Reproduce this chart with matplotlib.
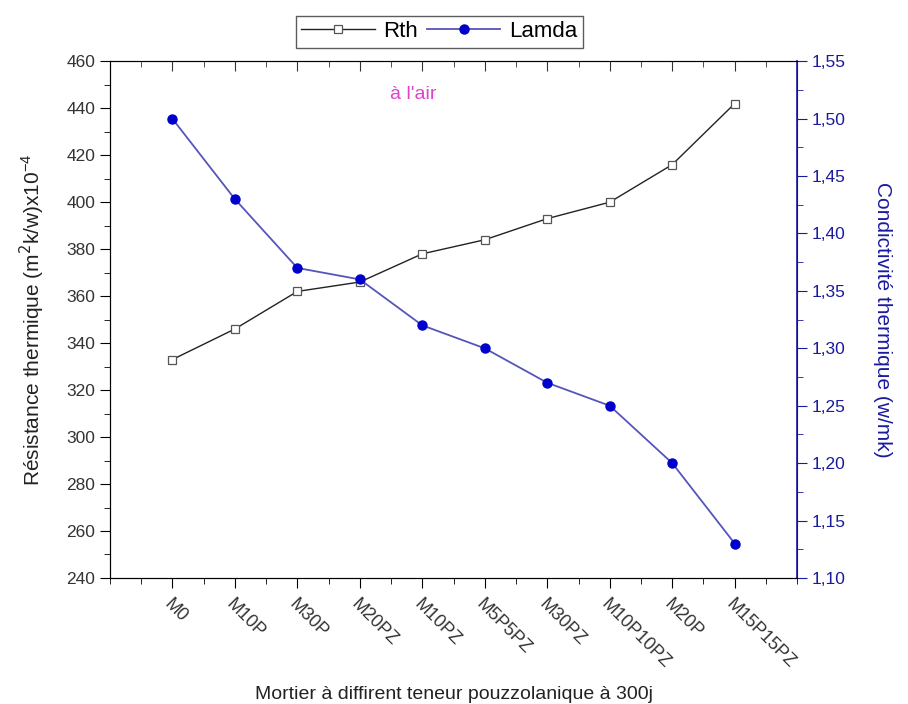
import numpy as np
import matplotlib.pyplot as plt
from matplotlib.ticker import MultipleLocator, FuncFormatter

plt.rcParams['font.family'] = ['Liberation Sans', 'DejaVu Sans']

# donnees
labels = ['M0', 'M10P', 'M30P', 'M20PZ', 'M10PZ', 'M5P5PZ', 'M30PZ', 'M10P10PZ', 'M20P', 'M15P15PZ']
rth = [333, 346, 362, 366, 378, 384, 393, 400, 416, 442]
lamda = [1.50, 1.43, 1.37, 1.36, 1.32, 1.30, 1.27, 1.25, 1.20, 1.13]

x = np.arange(1, len(labels) + 1)
blue = '#1a1aa0'

fig = plt.figure(figsize=(9.08, 7.04), dpi=100)
ax = fig.add_axes([0.121, 0.179, 0.757, 0.734])
ax2 = ax.twinx()

l1, = ax.plot(x, rth, '-', color='#222222', lw=1.0, marker='s', ms=5.5,
              mfc='white', mec='#555555', mew=0.9, label='Rth')
l2, = ax2.plot(x, lamda, '-', color='#5555bb', lw=1.3, marker='o', ms=6.5,
               mfc='#0000cc', mec='#0000cc', label='Lamda')

ax.set_xlim(0, 11)
ax.set_ylim(240, 460)
ax2.set_ylim(1.10, 1.55)

ax.set_xticks(x)
ax.set_xticklabels(labels, rotation=-45, ha='left', va='top', rotation_mode='anchor',
                   fontsize=13, color='#333333')
ax.xaxis.set_minor_locator(MultipleLocator(0.5))
ax.yaxis.set_major_locator(MultipleLocator(20))
ax.yaxis.set_minor_locator(MultipleLocator(10))
ax.tick_params(axis='x', which='both', direction='out')
ax.tick_params(axis='x', which='major', length=7, pad=6)
ax.tick_params(axis='x', which='minor', length=4)
ax.tick_params(axis='y', which='major', length=7, labelsize=12.5, labelcolor='#333333')
ax.tick_params(axis='y', which='minor', length=4)

# ticks du haut vers l'interieur (axe x partage avec ax2)
ax2.xaxis.set_visible(True)
ax2.tick_params(axis='x', which='both', top=True, bottom=False, labeltop=False,
                labelbottom=False, direction='in', color='#333333')
ax2.tick_params(axis='x', which='major', length=7)
ax2.tick_params(axis='x', which='minor', length=4)

ax2.yaxis.set_major_locator(MultipleLocator(0.05))
ax2.yaxis.set_minor_locator(MultipleLocator(0.025))
ax2.yaxis.set_major_formatter(FuncFormatter(lambda v, p: ('%.2f' % v).replace('.', ',')))
ax2.tick_params(axis='y', which='major', length=7, colors=blue, labelsize=12.5)
ax2.tick_params(axis='y', which='minor', length=4, colors=blue)
ax2.spines['right'].set_color(blue)
ax2.spines['right'].set_linewidth(1.2)

for s in ['left', 'top', 'bottom']:
    ax.spines[s].set_color('#333333')

ax.set_xlabel("Mortier à diffirent teneur pouzzolanique à 300j", fontsize=14, color='#222222', labelpad=10)
ax.set_ylabel("Résistance thermique (m$^{2}$k/w)x10$^{\\mathregular{-4}}$", fontsize=15, color='#222222', labelpad=14)
ax2.set_ylabel("Condictivité thermique (w/mk)", fontsize=15, color=blue, rotation=-90, labelpad=33)

ax.text(4.85, 446, "à l'air", color='#dd44cc', fontsize=14, ha='center', va='center')

fig.legend(handles=[l1, l2], loc='center', bbox_to_anchor=(0.484, 0.955), ncol=2,
           fontsize=16, frameon=True, fancybox=False, edgecolor='#333333',
           handlelength=3.3, handletextpad=0.4, columnspacing=0.4, borderpad=0.25)

fig.savefig('out.png', dpi=100)
